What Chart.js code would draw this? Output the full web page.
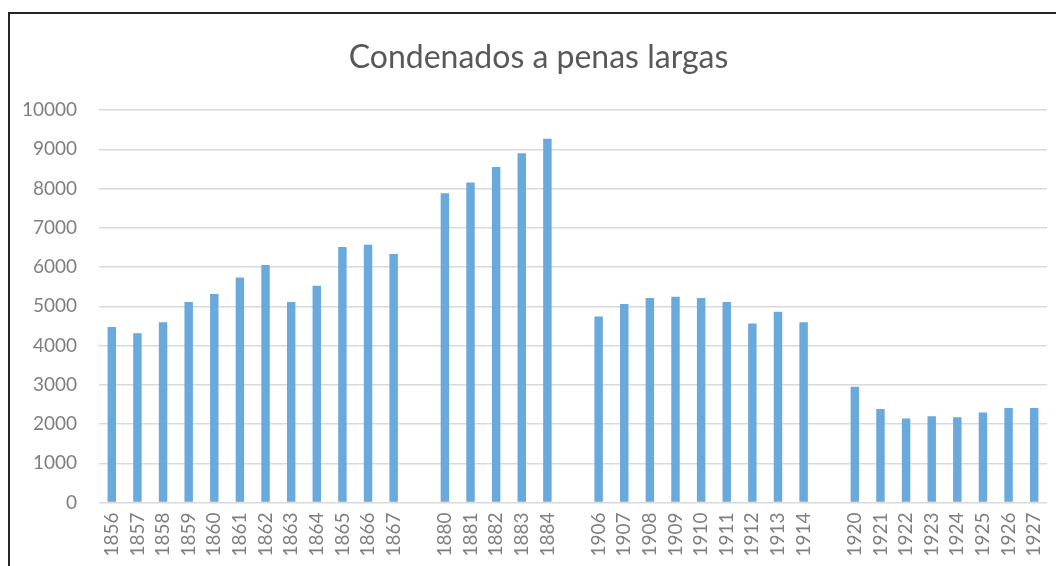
<!DOCTYPE html>
<html>
<head>
<meta charset="utf-8">
<script src="https://cdn.jsdelivr.net/npm/chart.js@4/dist/chart.umd.min.js"></script>
<style>
  html, body { margin: 0; padding: 0; background: #fff; overflow: hidden; }
  #frame {
    position: absolute; left: 8px; top: 12px;
    width: 1100px; height: 600px;
    border: 2px solid #262626; background: #fff;
  }
  #wrap { position: absolute; left: 0; top: 0; width: 1057px; height: 550px; }
</style>
</head>
<body>
<div id="frame"><div id="wrap"><canvas id="chart"></canvas></div></div>
<script>
// years, with '' as the blank slots between the periods
const years = ['1856','1857','1858','1859','1860','1861','1862','1863','1864','1865','1866','1867', '',
  '1880','1881','1882','1883','1884', '',
  '1906','1907','1908','1909','1910','1911','1912','1913','1914', '',
  '1920','1921','1922','1923','1924','1925','1926','1927'];
const condenados = [4470,4310,4590,5110,5310,5730,6050,5110,5520,6510,6570,6330, null,
  7880,8150,8550,8900,9270, null,
  4740,5060,5210,5240,5210,5110,4560,4860,4590, null,
  2950,2380,2140,2200,2170,2290,2410,2410];
const yTicks = [0,1000,2000,3000,4000,5000,6000,7000,8000,9000,10000];

const font = "Lato, 'Open Sans', sans-serif";

new Chart(document.getElementById('chart'), {
  type: 'bar',
  data: {
    labels: years,
    datasets: [{
      label: 'Condenados',
      data: condenados,
      backgroundColor: '#6aa9dc',
      borderWidth: 0,
      barPercentage: 0.66,
      categoryPercentage: 0.5
    }]
  },
  options: {
    responsive: true,
    maintainAspectRatio: false,
    animation: false,
    layout: { padding: 0 },
    plugins: {
      legend: { display: false },
      tooltip: { enabled: false },
      title: {
        display: true,
        text: 'Condenados a penas largas',
        color: '#595959',
        font: { family: font, size: 32, weight: 'normal' },
        padding: { top: 24, bottom: 33.6 }
      }
    },
    scales: {
      x: {
        grid: { display: false, drawTicks: false },
        border: { display: false },
        ticks: {
          autoSkip: false,
          minRotation: 90,
          maxRotation: 90,
          padding: 10,
          color: '#7f7f7f',
          font: { family: font, size: 19 }
        },
        afterFit: function (scale) { scale.height = 61.5; }
      },
      y: {
        min: 0,
        max: 10000,
        afterBuildTicks: function (scale) {
          scale.ticks = yTicks.map(v => ({ value: v }));
        },
        grid: { color: '#d9d9d9', lineWidth: 1.5, drawTicks: false },
        border: { display: false },
        ticks: {
          padding: 22,
          color: '#7f7f7f',
          font: { family: font, size: 19 },
          callback: function (v) { return String(v); }
        },
        afterFit: function (scale) { scale.width = 89; }
      }
    }
  }
});
</script>
</body>
</html>
